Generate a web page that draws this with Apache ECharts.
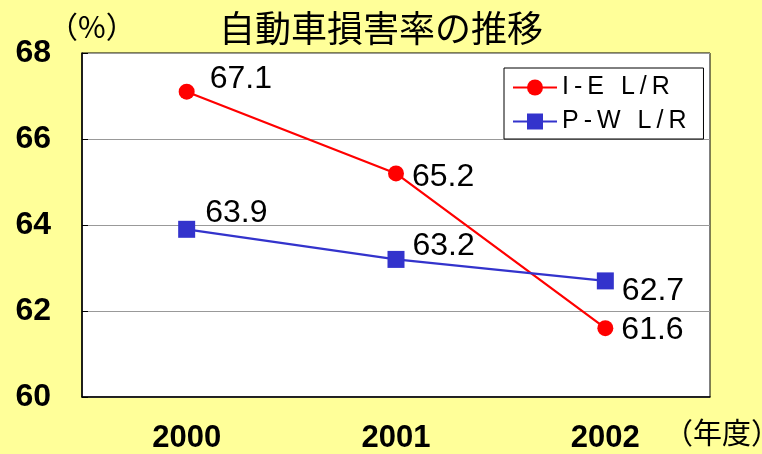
<!DOCTYPE html>
<html>
<head>
<meta charset="utf-8">
<script src="https://cdn.jsdelivr.net/npm/echarts@6/dist/echarts.min.js"></script>
<style>
  html, body { margin: 0; padding: 0; background: #ffff99; }
  #main { width: 762px; height: 454px; }
</style>
</head>
<body>
<div id="main"></div>
<script>
// data
const years = ['2000', '2001', '2002'];
const ieValues = [67.1, 65.2, 61.6];   // I-E L/R
const pwValues = [63.9, 63.2, 62.7];   // P-W L/R
const yTicks = [60, 62, 64, 66, 68];

// label nudges (layout only)
const ieOffsets = [[10, -13], [3, 4], [3, 2]];
const pwOffsets = [[5, -16], [3, -13], [3, 10]];

const chart = echarts.init(document.getElementById('main'));

function withOffsets(vals, offs) {
    return vals.map((v, i) => ({ value: v, label: { offset: offs[i] } }));
}

const labelStyle = {
    show: true, position: 'right', distance: 5,
    fontFamily: 'Liberation Sans, Arial', fontSize: 32, color: '#000'
};

chart.setOption({
    backgroundColor: '#ffff99',
    animation: false,
    title: {
        text: '自動車損害率の推移', left: 'center', top: 5,
        textStyle: { fontFamily: 'Noto Sans CJK JP', fontSize: 36, fontWeight: 'normal', color: '#000' }
    },
    graphic: [
        { type: 'text', left: 48, top: 12, style: { text: '（%）', fontSize: 30, fontFamily: 'Noto Sans CJK JP', fill: '#000' } },
        { type: 'text', left: 664, top: 418, style: { text: '（年度）', fontSize: 29, fontFamily: 'Noto Sans CJK JP', fill: '#000' } }
    ],
    legend: {
        orient: 'vertical', left: 504, top: 68,
        backgroundColor: '#fff', borderColor: '#000', borderWidth: 1,
        padding: [7, 17, 5, 8], itemGap: 9, itemWidth: 44, itemHeight: 20, itemTextGap: 9,
        formatter: n => n.split('').join('\u2009'),
        textStyle: { fontFamily: 'Liberation Sans, Arial', fontSize: 25, color: '#000' },
        data: ['I-E L/R', 'P-W L/R']
    },
    grid: {
        left: 82, right: 52, top: 53, bottom: 55,
        show: true, backgroundColor: '#fff', borderColor: '#000', borderWidth: 1
    },
    xAxis: {
        type: 'category', data: years, boundaryGap: true,
        axisLine: { lineStyle: { color: '#000', width: 1.5 } },
        axisTick: { inside: true, length: 9, lineStyle: { color: '#000' } },
        axisLabel: { margin: 26, fontFamily: 'Liberation Sans, Arial', fontSize: 31, fontWeight: 'bold', color: '#000' }
    },
    yAxis: {
        type: 'value', min: yTicks[0], max: yTicks[yTicks.length - 1], interval: 2,
        axisLine: { show: true, lineStyle: { color: '#000', width: 1.5 } },
        axisTick: { show: true, inside: true, length: 6, lineStyle: { color: '#000' } },
        splitLine: { lineStyle: { color: '#999', width: 1 } },
        axisLabel: { margin: 31, fontFamily: 'Liberation Sans, Arial', fontSize: 32, fontWeight: 'bold', color: '#000' }
    },
    series: [
        {
            name: 'I-E L/R', type: 'line', data: withOffsets(ieValues, ieOffsets),
            symbol: 'circle', symbolSize: 16,
            itemStyle: { color: '#ff0000' }, lineStyle: { color: '#ff0000', width: 2.2 },
            label: labelStyle
        },
        {
            name: 'P-W L/R', type: 'line', data: withOffsets(pwValues, pwOffsets),
            symbol: 'rect', symbolSize: 17,
            itemStyle: { color: '#3333cc' }, lineStyle: { color: '#3333cc', width: 2.2 },
            label: labelStyle
        }
    ]
});
</script>
</body>
</html>
